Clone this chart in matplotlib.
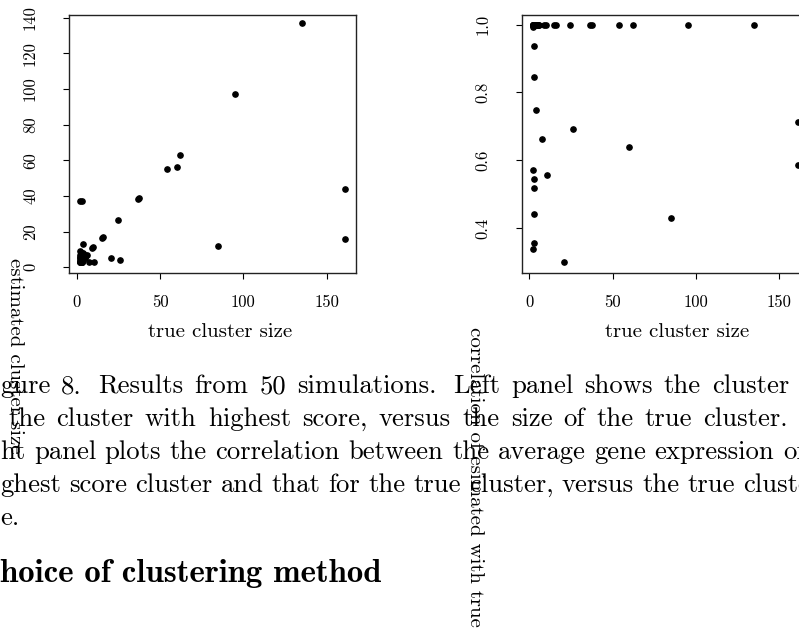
import matplotlib
matplotlib.use("Agg")
import matplotlib.pyplot as plt

plt.rcParams['font.family'] = 'cmr10'
plt.rcParams['axes.formatter.use_mathtext'] = True
plt.rcParams['mathtext.fontset'] = 'cm'

# ---- data: 50 simulations (true size, estimated size, correlation) ----
true_size = [135, 95, 62, 60, 54, 161, 161, 36.5, 37.5, 2, 3, 24.5, 15, 16,
             85, 4, 9, 10, 7.5, 10.5, 20.5, 26,
             2, 3, 3, 2, 3, 3, 3,
             2, 2, 2, 2, 2, 2, 3, 3, 3, 3, 3, 3, 4, 4, 4, 4, 4, 5, 5, 5, 6]
est_size = [137, 97, 63, 56, 55, 44, 16, 38.1, 38.6, 37, 37, 26.3, 16.5, 16.8,
            12, 13, 10.6, 11.2, 3, 3, 5.1, 4,
            9, 3, 4, 3, 5, 3, 6,
            3, 3, 4, 5, 6, 7, 3, 4, 5, 6, 7, 8, 4, 5, 6, 7, 8, 5, 6, 7, 7]
corr = [1.0, 1.0, 1.0, 0.638, 1.0, 0.712, 0.586, 1.0, 1.0, 0.338, 0.355, 1.0, 1.0, 1.0,
        0.429, 0.747, 1.0, 1.0, 0.662, 0.555, 0.299, 0.691,
        0.993, 0.936, 0.845, 0.570, 0.544, 0.517, 0.440,
        1.0, 1.0, 1.0, 1.0, 1.0, 1.0, 1.0, 1.0, 1.0, 1.0, 1.0, 1.0, 1.0, 1.0, 1.0, 1.0,
        1.0, 1.0, 1.0, 1.0, 1.0]

x_ticks = [0, 50, 100, 150]
left_y_ticks = [0, 20, 40, 60, 80, 100, 120, 140]
right_y_ticks = [0.4, 0.6, 0.8, 1.0]
right_y_labels = ["0.4", "0.6", "0.8", "1.0"]

x_label = "true cluster size"
left_y_label = "estimated cluster size"
right_y_label = "correlation of esimated with true"

caption_lines = [
    "gure 8.  Results from 50 simulations.  Left panel shows the cluster",
    "the cluster with highest score, versus the size of the true cluster.",
    "ht panel plots the correlation between the average gene expression of",
    "ghest score cluster and that for the true cluster, versus the true cluster",
    "e.",
]
heading = "hoice of clustering method"

# ---- layout ----
W, H = 799, 632
fig = plt.figure(figsize=(W / 100, H / 100), dpi=100)
fig.patch.set_facecolor("white")
renderer = fig.canvas.get_renderer()


def fx(px):
    return px / W


def fy(py):
    return 1 - py / H


def style(ax, xlim, ylim, yticks, ylabels):
    ax.set_xlim(*xlim)
    ax.set_ylim(*ylim)
    ax.set_xticks(x_ticks)
    ax.set_xticklabels([str(t) for t in x_ticks], fontsize=12)
    ax.set_yticks(yticks)
    ax.set_yticklabels(ylabels, fontsize=12, rotation=90, va="center")
    ax.tick_params(axis="x", length=4.3, width=0.8, pad=11, colors="black")
    ax.tick_params(axis="y", length=4.3, width=0.8, pad=18, colors="black")
    for s in ax.spines.values():
        s.set_linewidth(1.0)
        s.set_color("#222222")


ax1 = fig.add_axes([fx(69), fy(273), 287 / W, 258 / H])
ax1.plot(true_size, est_size, "o", color="black", ms=3.8, ls="none")
style(ax1, (-4.6, 167.6), (-3.2, 141.5), left_y_ticks, [str(t) for t in left_y_ticks])

ax2 = fig.add_axes([fx(521.7), fy(273), 287 / W, 258 / H])
ax2.plot(true_size, corr, "o", color="black", ms=3.8, ls="none")
style(ax2, (-4.6, 167.6), (0.267, 1.0286), right_y_ticks, right_y_labels)

fig.text(fx(220.5), fy(332), x_label, fontsize=15, ha="center", va="center")
fig.text(fx(677.3), fy(332), x_label, fontsize=15, ha="center", va="center")
fig.text(fx(15), fy(258), left_y_label, fontsize=15, rotation=270, ha="center", va="top")
fig.text(fx(475), fy(327), right_y_label, fontsize=15, rotation=270, ha="center", va="top")


# ---- justified caption lines (word by word) ----
CAP_SIZE = 19.2


def width_px(s, size, family="cmr10"):
    t = fig.text(0, 0, s, fontsize=size, family=family)
    w = t.get_window_extent(renderer).width
    t.remove()
    return w


# (start x, anchor kind, anchor x, baseline y)
line_layout = [
    (0, "end", 789, 393),
    (8, "end", 788, 426),
    (0, "laststart", 783, 459),
    (0, "laststart", 743, 492),
    (0, None, None, 525),
]

for text, (x0, kind, xa, yb) in zip(caption_lines, line_layout):
    words = text.split()
    if kind is None:
        fig.text(fx(x0), fy(yb), text, fontsize=CAP_SIZE, ha="left", va="baseline")
        continue
    widths = [width_px(w, CAP_SIZE) for w in words]
    weights = [1.5 if w.endswith(".") else 1.0 for w in words[:-1]]
    used = sum(widths[:-1]) + (widths[-1] if kind == "end" else 0)
    gap_total = xa - x0 - used
    x = x0
    for i, w in enumerate(words):
        fig.text(fx(x), fy(yb), w, fontsize=CAP_SIZE, ha="left", va="baseline")
        if i < len(words) - 1:
            x += widths[i] + gap_total * weights[i] / sum(weights)

fig.text(fx(0), fy(582), heading, fontsize=23.6, ha="left", va="baseline", family="cmb10")

fig.savefig("out.png", dpi=100)
